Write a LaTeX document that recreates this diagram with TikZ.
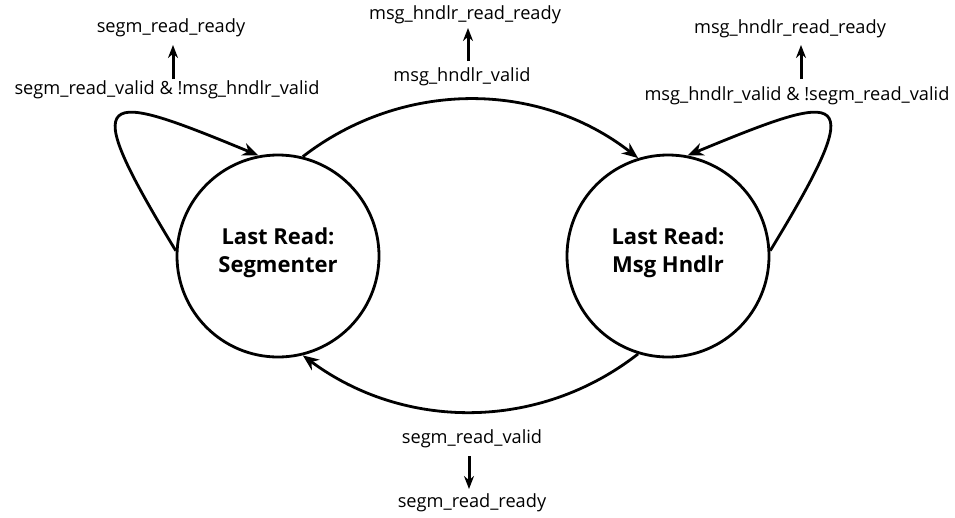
\documentclass[tikz,border=0pt]{standalone}
\usepackage{fontspec}
\setmainfont{Open Sans}
\usetikzlibrary{arrows.meta}
\begin{document}
\begin{tikzpicture}[x=1pt,y=-1pt,
  state/.style={circle,draw,line width=2.8pt,minimum size=202pt,inner sep=0pt,align=center,text depth=11pt,font=\fontsize{22}{28}\selectfont\bfseries},
  lbl/.style={font=\fontsize{18.2}{21}\selectfont,inner sep=0pt},
  edge/.style={line width=2.8pt,-{Stealth[length=16pt,width=13pt,inset=5pt]}},
  sig/.style={line width=3pt,-{Stealth[length=13pt,width=10pt]}}]
\useasboundingbox (0,0) rectangle (955,517);
\node[state] (L) at (278,256) {Last Read:\\Segmenter};
\node[state] (R) at (668,256) {Last Read:\\Msg Hndlr};
% transitions
\draw[edge] (L.76) .. controls (402,80) and (538,80) .. (R.107);
\draw[edge] (R.253) .. controls (538,432) and (403,430) .. (L.284);
\draw[edge] (L.177) .. controls (75,85) and (100,90) .. (L.101);
\draw[edge] (R.3) .. controls (871,85) and (846,90) .. (R.79);
% labels
\node[lbl] (r1) at (171,28) {segm\_read\_ready};
\node[lbl] (v1) at (167,90) {segm\_read\_valid \& !msg\_hndlr\_valid};
\node[lbl] (r2) at (465,15) {msg\_hndlr\_read\_ready};
\node[lbl] (v2) at (462,77) {msg\_hndlr\_valid};
\node[lbl] (r3) at (790,29) {msg\_hndlr\_read\_ready};
\node[lbl] (v3) at (797,96) {msg\_hndlr\_valid \& !segm\_read\_valid};
\node[lbl] (v4) at (472,439) {segm\_read\_valid};
\node[lbl] (r4) at (472,503) {segm\_read\_ready};
% signal arrows
\coordinate (s1a) at (173,79); \coordinate (s1b) at (173,45);
\coordinate (s2a) at (468,61); \coordinate (s2b) at (468,28);
\coordinate (s3a) at (801,79); \coordinate (s3b) at (801,45);
\coordinate (s4a) at (469,456); \coordinate (s4b) at (469,489);
\draw[sig] (s1a) -- (s1b);
\draw[sig] (s2a) -- (s2b);
\draw[sig] (s3a) -- (s3b);
\draw[sig] (s4a) -- (s4b);
\end{tikzpicture}
\end{document}
